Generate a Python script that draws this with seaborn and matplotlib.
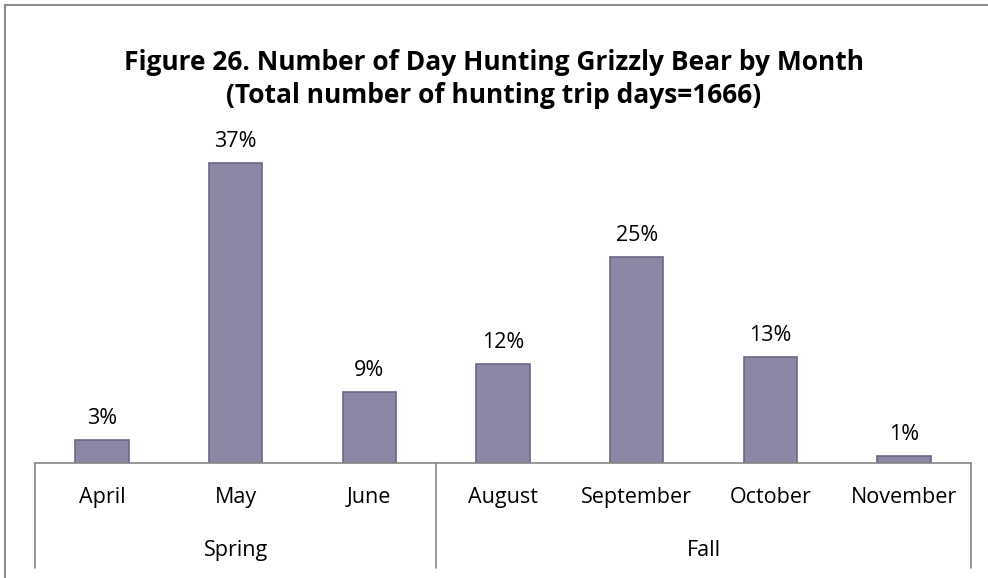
import matplotlib
matplotlib.use("Agg")
import matplotlib.pyplot as plt
import matplotlib.transforms as mtransforms
import seaborn as sns
import pandas as pd

months = ["April", "May", "June", "August", "September", "October", "November"]
seasons = ["Spring", "Spring", "Spring", "Fall", "Fall", "Fall", "Fall"]
share = [2.8, 37.0, 8.8, 12.2, 25.4, 13.1, 0.9]
share_labels = ["3%", "37%", "9%", "12%", "25%", "13%", "1%"]

df = pd.DataFrame({"month": months, "season": seasons, "share": share})

sns.set_style("white")
plt.rcParams["font.family"] = ["Open Sans", "DejaVu Sans"]
plt.rcParams["text.color"] = "black"
plt.rcParams["xtick.color"] = "black"

fig = plt.figure(figsize=(9.88, 5.78), dpi=100)
ax = fig.add_axes([35 / 988, 115 / 578, 936 / 988, 324 / 578])

sns.barplot(data=df, x="month", y="share", color="#8B88A6", width=0.4,
            edgecolor="#6B6784", linewidth=1.2, saturation=1, ax=ax)
ax.bar_label(ax.containers[0], labels=share_labels, padding=8, fontsize=15.5)

ax.set_xlim(-0.5, len(months) - 0.5)
ax.set_ylim(0, 40)
ax.set_xlabel("")
ax.set_ylabel("")
ax.set_yticks([])
ax.tick_params(axis="x", length=0, pad=17, labelsize=15.5)
for side in ["top", "right", "left"]:
    ax.spines[side].set_visible(False)
ax.spines["bottom"].set_color("#868686")
ax.spines["bottom"].set_linewidth(1.2)

# multi-level category axis separators
trans = mtransforms.blended_transform_factory(ax.transData, ax.transAxes)
for xpos in [-0.5, 2.5, len(months) - 0.5]:
    ax.plot([xpos, xpos], [0, -0.325], transform=trans, color="#868686",
            lw=1.2, clip_on=False)

groups = df.groupby("season", sort=False).apply(lambda g: g.index.to_series().mean())
for name, xc in groups.items():
    ax.text(xc, -0.27, name, transform=trans, ha="center", va="center", fontsize=15.5)

fig.text(0.5, 1 - 79 / 578, "Figure 26. Number of Day Hunting Grizzly Bear by Month\n"
         "(Total number of hunting trip days=1666)",
         ha="center", va="center", fontsize=19, fontweight="bold", linespacing=1.25)

# chart border (top and left visible)
fig.add_artist(plt.Line2D([5 / 988, 1], [1 - 5 / 578, 1 - 5 / 578], color="#8C8C8C", lw=1.5))
fig.add_artist(plt.Line2D([5 / 988, 5 / 988], [0, 1 - 5 / 578], color="#8C8C8C", lw=1.5))

fig.savefig("out.png", dpi=100)
